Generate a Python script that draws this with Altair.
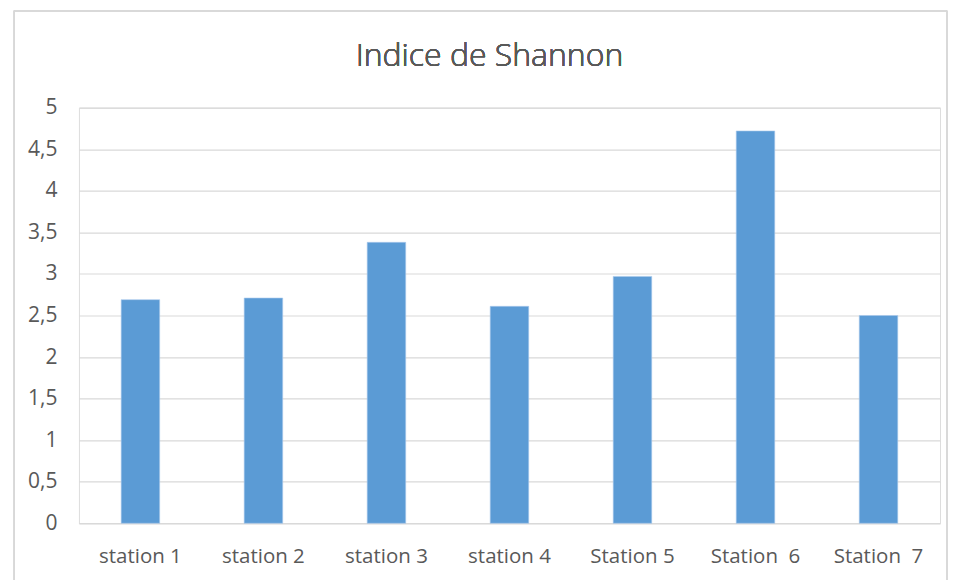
import altair as alt
import pandas as pd

stations = ["station 1", "station 2", "station 3", "station 4", "Station 5", "Station  6", "Station  7"]
values = [2.69, 2.71, 3.38, 2.61, 2.97, 4.72, 2.50]
y_ticks = [0, 0.5, 1, 1.5, 2, 2.5, 3, 3.5, 4, 4.5, 5]

df = pd.DataFrame({"station": stations, "value": values})

FONT = "Open Sans"
TXT = "#595959"
GRID = "#d9d9d9"

bars = alt.Chart(df).mark_bar(color="#5b9bd5", stroke="#a9c9ec", strokeWidth=0.6).encode(
    x=alt.X("station:N", sort=stations,
            scale=alt.Scale(paddingInner=0.687, paddingOuter=0.3435),
            axis=alt.Axis(title=None, labelAngle=0, labelFont=FONT, labelFontSize=20.5,
                          labelColor=TXT, ticks=False, domain=True, domainColor=GRID,
                          domainWidth=1.2, labelPadding=23, labelBaseline="top",
                          labelExpr="replace(datum.label, '  ', '\u00a0\u00a0')")),
    y=alt.Y("value:Q", scale=alt.Scale(domain=[0, 5], nice=False),
            axis=alt.Axis(title=None, values=y_ticks, labelFont=FONT, labelFontSize=21,
                          labelColor=TXT, ticks=False, domain=False, grid=True,
                          gridColor=GRID, gridWidth=1.2, labelPadding=22,
                          labelExpr="replace(toString(datum.value), '.', ',')")),
)

frame = alt.Chart(df).mark_rect(fill=None, stroke=GRID, strokeWidth=1).encode(
    x=alt.value(-65), x2=alt.value(869), y=alt.value(-97), y2=alt.value(500)
)

title = alt.Chart(df).mark_text(font=FONT, fontSize=32, fontWeight=300, color=TXT,
                                baseline="alphabetic", align="center").encode(
    x=alt.value(411), y=alt.value(-42), text=alt.value("Indice de Shannon")
)

chart = alt.layer(frame, bars, title).properties(
    width=862, height=416,
    autosize=alt.AutoSizeParams(type="none"),
    padding={"left": 71, "top": 99.5, "right": 10, "bottom": 60},
).configure_view(stroke=None).configure(background="white")

chart.save("out.html", embed_options={"renderer": "svg", "actions": False})
